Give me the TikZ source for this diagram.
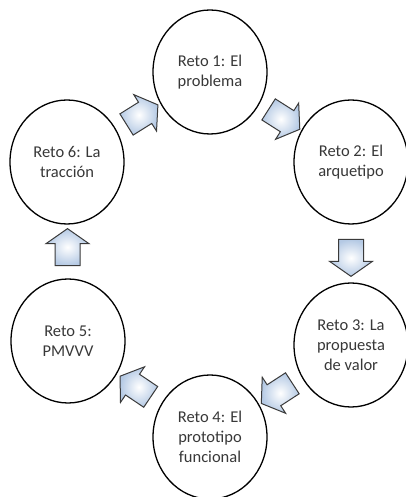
\documentclass[tikz,border=0pt]{standalone}
\usepackage{fontspec}
\setmainfont{Carlito}
\usetikzlibrary{shapes.geometric,shapes.arrows,calc}
\definecolor{txtgray}{HTML}{383838}
\definecolor{arrblue}{HTML}{B4C9E4}
\definecolor{arredge}{HTML}{3A3A3A}
\begin{document}
\begin{tikzpicture}[x=1pt,y=1pt,
  reto/.style={ellipse,draw=black,line width=1.3pt,fill=white,
    minimum width=114pt,minimum height=124pt,inner sep=0pt,
    align=center,text=txtgray,font=\fontsize{16.5}{20}\selectfont},
  blockarrow/.style={single arrow,draw=arredge,line width=1pt,
    inner color=white,outer color=arrblue,
    minimum height=37pt,inner xsep=0pt,inner ysep=12pt,
    single arrow head extend=9pt,single arrow tip angle=110}]
\useasboundingbox (0,0) rectangle (406,497);
\node[reto] (c1) at (210,425) {Reto 1: El\\problema};
\node[reto] (c2) at (351,335) {Reto 2: El\\arquetipo};
\node[reto] (c3) at (351,152) {Reto 3: La\\propuesta\\de valor};
\node[reto] (c4) at (210,60) {Reto 4: El\\prototipo\\funcional};
\node[reto] (c5) at (68,156) {Reto 5:\\PMVVV};
\node[reto] (c6) at (67,335) {Reto 6: La\\tracción};
\node[blockarrow,rotate=-32.5] (a12) at ($(c1)!0.5!(c2)$) {};
\node[blockarrow,rotate=-90] (a23) at ($(c2)!0.5!(c3)$) {};
\node[blockarrow,rotate=213] (a34) at ($(c3)!0.5!(c4)$) {};
\node[blockarrow,rotate=146] (a45) at ($(c4)!0.5!(c5)$) {};
\node[blockarrow,rotate=90] (a56) at ($(c5)!0.5!(c6)$) {};
\node[blockarrow,rotate=32] (a61) at ($(c6)!0.5!(c1)$) {};
\end{tikzpicture}
\end{document}
